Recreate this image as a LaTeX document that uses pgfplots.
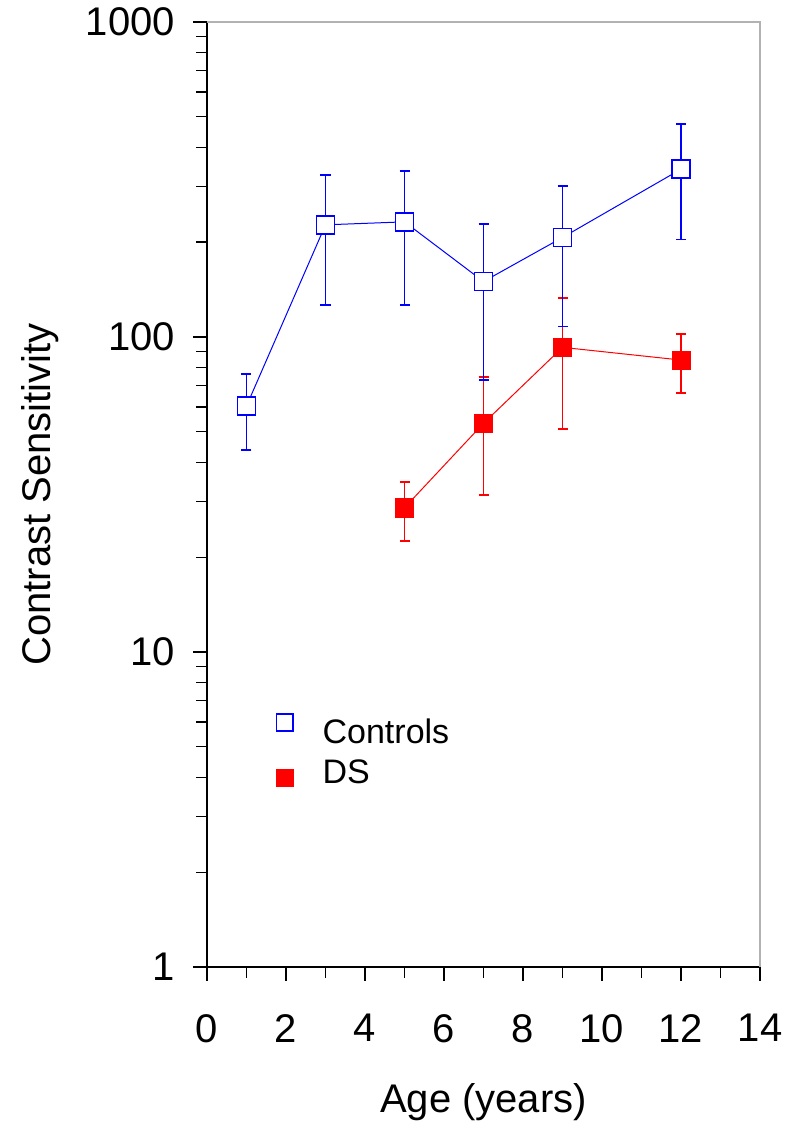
\documentclass[border=0pt]{standalone}
\usepackage{fontspec}
\setmainfont{Liberation Sans}
\usepackage{pgfplots}
\usepackage{pgfplotstable}
\pgfplotsset{compat=1.18}
\definecolor{cblue}{RGB}{0,0,255}
\definecolor{cred}{RGB}{255,0,0}
\pgfplotsset{
  legds/.style={legend image code/.code={\draw[##1, overlay, mark size=6.3pt, line width=0.8pt] plot coordinates {(0pt,-5.25pt)}; \path (-7pt,0pt) (28pt,0pt);}},
  legctrl/.style={legend image code/.code={\draw[##1, overlay, mark size=6.3pt, line width=0.8pt] plot coordinates {(0pt,6pt)}; \path (-7pt,0pt) (28pt,0pt);}},
}
\pgfplotstableread{
x y ep em
1 60.4 15.9 16.6
3 227 100 101
5 232 104 106
7 150 78 77
9 207 95 99
12 341 134 137
}\controls
\pgfplotstableread{
x y ep em
5 28.7 6.0 6.2
7 53.2 21.3 21.6
9 92.7 40.3 41.7
12 84.5 17.5 18.0
}\ds
\begin{document}
\begin{tikzpicture}
\begin{axis}[
  scale only axis, width=414.75pt, height=708.75pt,
  xmin=0, xmax=14, ymin=1, ymax=1000, ymode=log,
  axis lines*=left, axis line style={-, black, line width=1pt},
  xtick={0,2,...,14}, minor x tick num=1,
  ytick={1,10,100,1000},
  log ticks with fixed point,
  /pgf/number format/assume math mode=true,
  /pgf/number format/1000 sep={},
  tick align=outside, major tick length=10.5pt, minor tick length=8pt,
  every tick/.style={black, line width=1pt},
  tick label style={font=\fontsize{30}{36}\selectfont},
  yticklabel style={xshift=-10pt},
  xticklabel style={yshift=-21.5pt},
  xlabel={Age (years)},
  ylabel={Contrast Sensitivity},
  every axis x label/.style={at={(axis description cs:0.5,-0.1429)}, anchor=center, font=\fontsize{30}{36}\selectfont},
  every axis y label/.style={at={(axis description cs:-0.302,0.5)}, anchor=center, rotate=90, font=\fontsize{30}{36}\selectfont},
  reverse legend,
  legend style={draw=none, fill=none, inner sep=0pt, font=\fontsize{25.5}{31}\selectfont,
    at={(axis description cs:0.1224,0.2638)}, anchor=north west, row sep=11pt,
    nodes={inner sep=0pt, text height=19pt, text depth=0pt}},
  legend cell align=left,
  error bars/error bar style={line width=1.4pt},
  error bars/error mark options={rotate=90, mark size=3.75pt, line width=1.4pt},
  clip=false,
]
\draw[gray!60, line width=1pt] (rel axis cs:0,1) -- (rel axis cs:1,1) -- (rel axis cs:1,0);
\addplot[cred, line width=0.75pt, mark=square*, mark size=6.8pt, mark options={fill=cred, draw=cred, line width=0.5pt},
  legds,
  error bars/.cd, y dir=both, y explicit]
  table[x=x, y=y, y error plus=ep, y error minus=em]{\ds};
\addlegendentry{DS}
\addplot[cblue, line width=0.75pt, mark=square*, mark size=6.8pt, mark options={fill=white, draw=cblue, line width=1.3pt},
  legctrl,
  error bars/.cd, y dir=both, y explicit]
  table[x=x, y=y, y error plus=ep, y error minus=em]{\controls};
\addlegendentry{Controls}
\end{axis}
\pgfresetboundingbox
\path[use as bounding box] ([shift={(-155.25pt,-117pt)}]current axis.south west) rectangle ([shift={(29.25pt,16.5pt)}]current axis.north east);
\end{tikzpicture}
\end{document}
